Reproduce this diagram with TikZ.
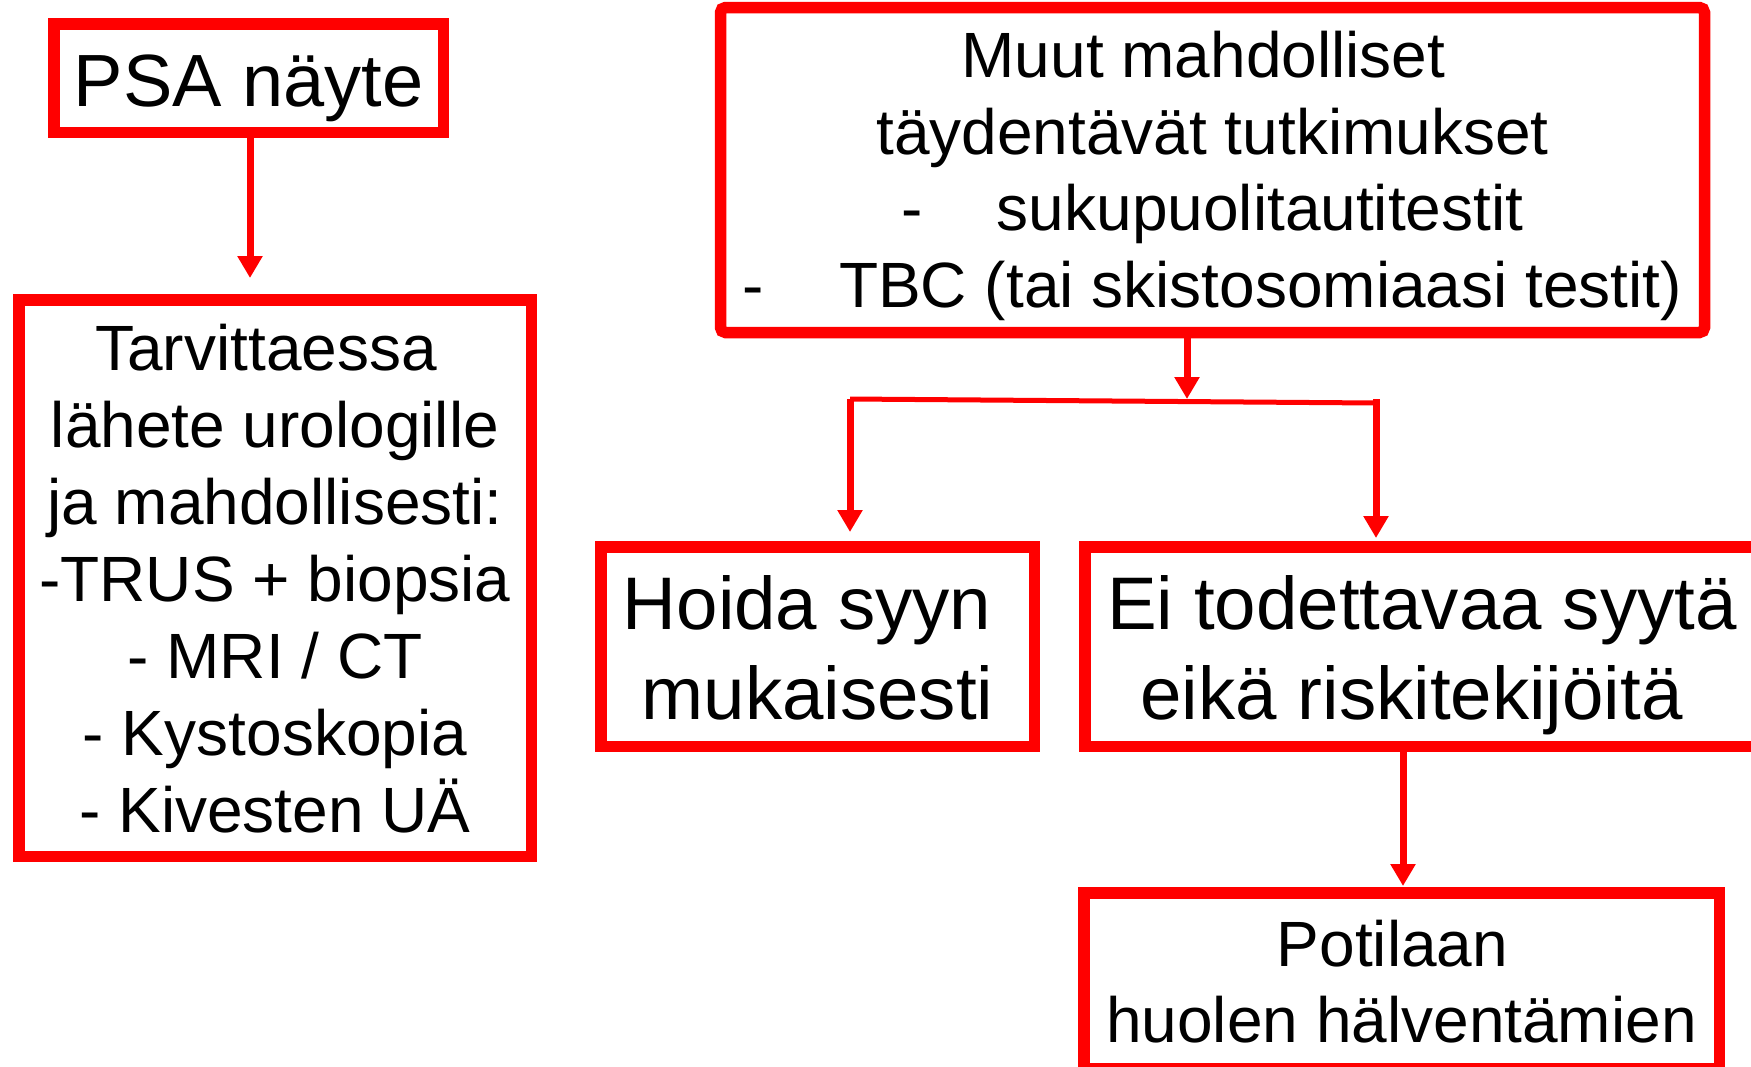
\documentclass[tikz,border=0pt]{standalone}
\usepackage{fontspec}
\setmainfont{Liberation Sans}
\usetikzlibrary{arrows.meta}
\definecolor{boxred}{RGB}{255,0,0}
\tikzset{
  box/.style={draw=boxred, line width=11.5pt, fill=white, inner sep=0pt, align=center, text=black},
  big/.style={font=\fontsize{74.5}{90}\selectfont},
  small/.style={font=\fontsize{64}{77}\selectfont},
  arr/.style={draw=boxred, line width=7pt, -{Triangle[length=22pt,width=24pt]}},
  link/.style={draw=boxred, line width=5pt},
}
\begin{document}
\begin{tikzpicture}[x=1pt,y=-1pt]
\useasboundingbox (0,0) rectangle (1751,1066);
\clip (0,0) rectangle (1751,1066);
\fill[white] (0,0) rectangle (1751,1066);

\node[box, font=\fontsize{74}{90}\selectfont, minimum width=389.5pt, minimum height=108.5pt, text height=66pt, text depth=10pt] (psa) at (248.5,78) {PSA näyte};

\node[box, small, minimum width=512.5pt, minimum height=556.5pt, text height=518pt, text depth=10pt] (tarv) at (275,578)
  {Tarvittaessa\kern0.28em\\lähete urologille\\ja mahdollisesti:\\-TRUS + biopsia\\- MRI / CT\\- Kystoskopia\\- Kivesten UÄ};

\node[box, font=\fontsize{64}{76.5}\selectfont, rounded corners=5pt, minimum width=984pt, minimum height=325pt, text height=284pt, text depth=10pt] (tests) at (1212.5,170)
  {Muut mahdolliset\kern0.28em\\täydentävät tutkimukset\\-\kern74pt sukupuolitautitestit\\-\kern75pt TBC (tai skistosomiaasi testit)};

\node[box, big, minimum width=433.5pt, minimum height=199.5pt, text height=155pt, text depth=10pt] (hoida) at (817.5,646.5)
  {Hoida syyn\kern0.28em\\mukaisesti};

\node[box, big, minimum width=674.5pt, minimum height=199.5pt, text height=155pt, text depth=10pt] (ei) at (1422,646.5)
  {Ei todettavaa syytä\\eikä riskitekijöitä\kern0.28em};

\node[box, font=\fontsize{64}{76}\selectfont, minimum width=635.5pt, minimum height=175.5pt, text height=133pt, text depth=10pt] (pot) at (1401.5,980.5)
  {Potilaan\kern0.28em\\huolen hälventämien};

\draw[arr, shorten >=16pt] ([xshift=1.5pt]psa.south) -- ([xshift=1.5pt]psa.south |- tarv.north);

\coordinate (j) at (1187,399);
\coordinate (jl) at (850,399);
\coordinate (jr) at (1376,403);
\coordinate (jrt) at (1376,399);
\draw[arr] (j |- tests.south) -- (j);
\draw[link] (jl) -- (jr);
\draw[arr, shorten >=9pt] (jl) -- (jl |- hoida.north);
\draw[arr, shorten >=3pt] (jrt) -- (jrt |- ei.north);
\draw[arr, shorten >=1pt] ([xshift=1.5pt]pot.north |- ei.south) -- ([xshift=1.5pt]pot.north);
\end{tikzpicture}
\end{document}
